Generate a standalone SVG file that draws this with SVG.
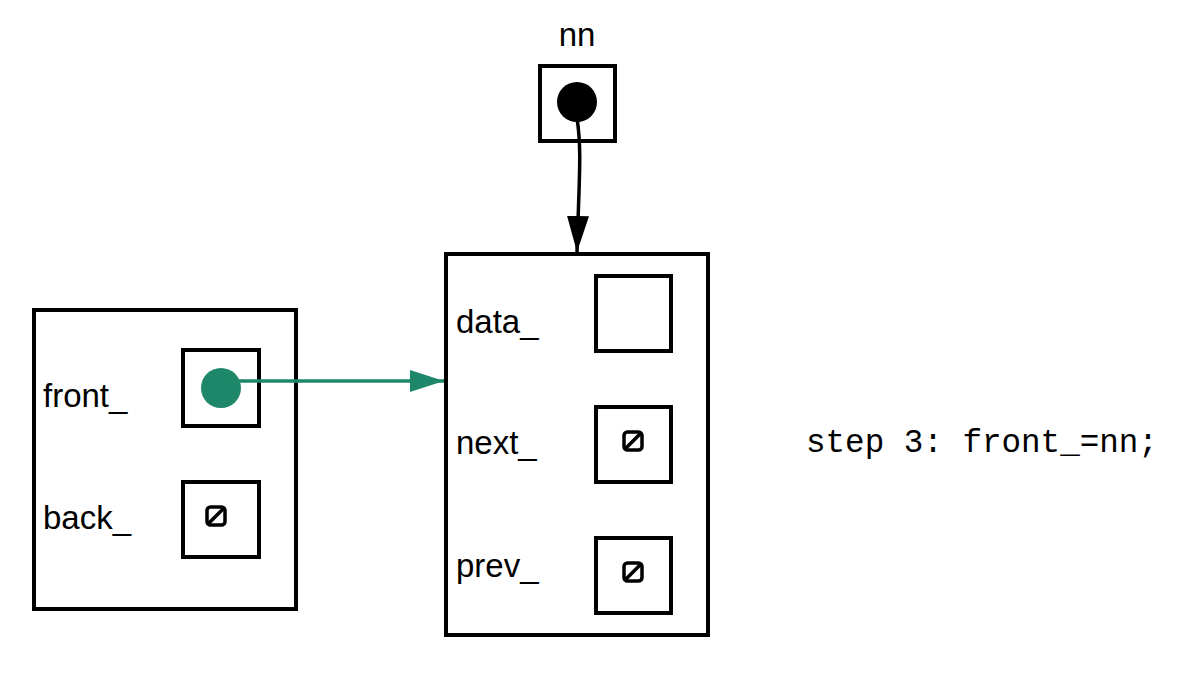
<svg xmlns="http://www.w3.org/2000/svg" width="1202" height="694" viewBox="0 0 1202 694">
  <style>
    .box { fill: #fff; stroke: #000; stroke-width: 4; }
    .lbl { font-family: "Liberation Sans", Arial, sans-serif; font-size: 33px; fill: #000; }
    .code { font-family: "Liberation Mono", "Courier New", monospace; font-size: 32.6px; fill: #000; }
    .null rect { fill: none; stroke: #000; stroke-width: 3.5; }
    .null line { stroke: #000; stroke-width: 3.5; }
  </style>
  <defs>
    <marker id="headBlack" viewBox="0 0 10 10" refX="10" refY="5" markerWidth="36" markerHeight="22" markerUnits="userSpaceOnUse" orient="auto" preserveAspectRatio="none">
      <path d="M0,0 L10,5 L0,10 Z" fill="#000"/>
    </marker>
    <marker id="headGreen" viewBox="0 0 10 10" refX="10" refY="5" markerWidth="34" markerHeight="22" markerUnits="userSpaceOnUse" orient="auto" preserveAspectRatio="none">
      <path d="M0,0 L10,5 L0,10 Z" fill="#1e8769"/>
    </marker>
    <g id="nullSym" class="null">
      <rect x="-9" y="-9" width="18" height="18" rx="3.5"/>
      <line x1="-8" y1="8" x2="8" y2="-8"/>
    </g>
  </defs>

  <!-- list object -->
  <g id="list">
    <rect class="box" x="34" y="310" width="262" height="299"/>
    <text class="lbl" x="43" y="407">front_</text>
    <rect class="box" x="183" y="350" width="76" height="76"/>
    <circle cx="221" cy="388" r="20" fill="#1e8769"/>
    <text class="lbl" x="43" y="529">back_</text>
    <rect class="box" x="183" y="482" width="76" height="75"/>
    <use href="#nullSym" x="216" y="516"/>
  </g>

  <!-- pointer variable nn -->
  <g id="nn">
    <text class="lbl" x="577" y="46" text-anchor="middle">nn</text>
    <rect class="box" x="540" y="66" width="75" height="75"/>
    <circle cx="577" cy="102" r="20" fill="#000"/>
  </g>

  <!-- new node -->
  <g id="node">
    <rect class="box" x="446" y="254" width="262" height="381"/>
    <text class="lbl" x="456" y="333">data_</text>
    <rect class="box" x="596" y="276" width="75" height="75"/>
    <text class="lbl" x="456" y="454">next_</text>
    <rect class="box" x="596" y="407" width="75" height="75"/>
    <use href="#nullSym" x="633" y="441"/>
    <text class="lbl" x="456" y="577">prev_</text>
    <rect class="box" x="596" y="538" width="75" height="75"/>
    <use href="#nullSym" x="633" y="572"/>
  </g>

  <g id="caption">
    <text class="code" x="806" y="452">step 3: front_=nn;</text>
  </g>

  <g id="connectors" fill="none">
    <path d="M577,118 C582,150 579,180 577,252" stroke="#000" stroke-width="3.5" marker-end="url(#headBlack)"/>
    <path d="M221,381 L444,381" stroke="#1e8769" stroke-width="3.5" marker-end="url(#headGreen)"/>
  </g>
</svg>
